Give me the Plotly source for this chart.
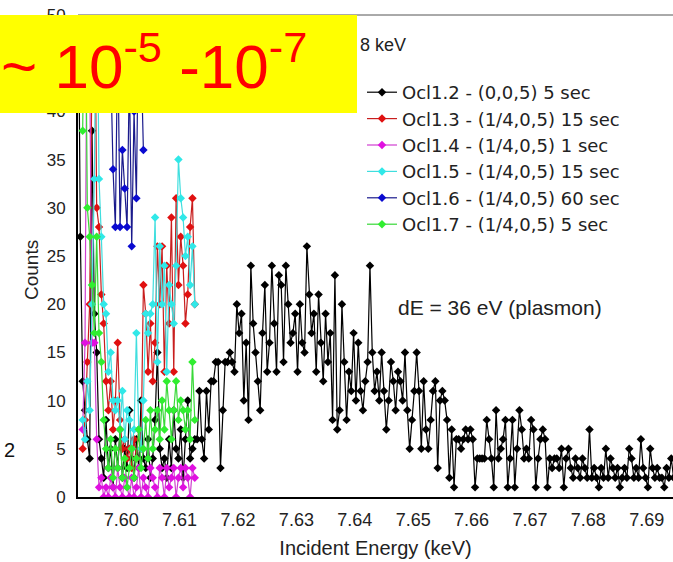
import plotly.graph_objects as go

# ---- data ----
E_STEP = 0.0004          # keV, scan step
BLACK_E0 = 7.5926        # first energy of Ocl1.2 scan
SCAN_E0 = 7.5934         # first energy of the (1/4,0,5) scans
BLUE_E0 = 7.5982         # first energy of Ocl1.6 scan

ocl12 = [58, 27, 12, 9, 6, 4, 38, 19, 15, 6,
         4, 2, 8, 3, 5, 1, 6, 3, 7, 2,
         5, 3, 9, 4, 2, 6, 3, 10, 4, 3,
         6, 2, 4, 8, 15, 5, 3, 4, 2, 6,
         3, 9, 5, 4, 7, 2, 6, 10, 4, 5,
         6, 6, 11, 6, 4, 11, 7, 12, 12, 14,
         14, 3, 9, 14, 14, 15, 14, 13, 20, 17,
         19, 10, 16, 8, 24, 18, 15, 12, 9, 17,
         22, 13, 16, 24, 18, 13, 23, 22, 14, 24,
         20, 16, 17, 19, 13, 20, 16, 15, 26, 21,
         17, 19, 13, 21, 16, 12, 19, 14, 17, 8,
         23, 7, 9, 20, 14, 8, 13, 11, 17, 10,
         16, 11, 9, 12, 14, 24, 15, 11, 13, 10,
         15, 11, 7, 10, 14, 12, 9, 13, 12, 10,
         15, 9, 5, 8, 11, 15, 11, 5, 12, 7,
         5, 8, 11, 12, 3, 10, 11, 10, 8, 2,
         7, 1, 6, 6, 5, 6, 7, 6, 7, 6,
         1, 4, 4, 4, 4, 8, 6, 4, 1, 9,
         4, 5, 6, 8, 1, 4, 8, 1, 5, 9,
         7, 4, 5, 4, 8, 7, 1, 4, 6, 7,
         6, 1, 4, 3, 4, 4, 3, 5, 1, 4,
         5, 3, 2, 4, 3, 2, 4, 3, 2, 7,
         2, 3, 2, 1, 3, 2, 5, 2, 4, 3,
         2, 3, 1, 2, 3, 2, 5, 4, 2, 3,
         2, 6, 3, 2, 1, 5, 3, 2, 3, 2,
         2, 1, 3, 2, 4, 2]

ocl13 = [5, 8, 14, 20, 45, 58, 30, 28, 21, 18,
         12, 9, 12, 7, 10, 16, 8, 5, 6, 4,
         5, 3, 6, 4, 7, 5, 22, 19, 13, 18,
         12, 16, 26, 20, 26, 13, 24, 18, 29, 13,
         31, 22, 27, 24, 18, 21, 28, 31, 20]

ocl14 = [7, 16, 58, 45, 16, 16, 6, 1, 2, 0,
         1, 0, 2, 1, 0, 3, 1, 0, 2, 1,
         0, 2, 0, 1, 3, 0, 2, 1, 0, 3,
         2, 1, 0, 3, 2, 0, 3, 1, 2, 3,
         0, 2, 3, 1, 3, 2, 0, 3, 2]

ocl15 = [8, 6, 12, 9, 20, 33, 58, 33, 27, 20,
         19, 13, 15, 10, 9, 10, 7, 11, 6, 9,
         8, 5, 7, 17, 7, 5, 10, 19, 17, 19,
         20, 29, 14, 26, 20, 24, 13, 22, 20, 18,
         24, 35, 31, 29, 25, 27, 22, 26, 20]

ocl16 = [45, 34, 28, 48, 28, 36, 32, 28, 44, 26,
         40, 31, 52, 46, 36]

ocl17 = [38, 58, 30, 27, 22, 17, 27, 17, 14, 8,
         5, 3, 6, 2, 5, 3, 7, 2, 4, 1,
         3, 5, 2, 4, 7, 3, 5, 8, 4, 9,
         5, 7, 9, 6, 10, 7, 12, 9, 6, 9,
         12, 8, 10, 9, 7, 9, 6, 14, 8]

series = [
    ("Ocl1.2 - (0,0,5) 5 sec", BLACK_E0, ocl12, "#000000", "#000000"),
    ("Ocl1.3 - (1/4,0,5) 15 sec", SCAN_E0, ocl13, "#c81e1e", "#e01010"),
    ("Ocl1.4 - (1/4,0,5) 1 sec", SCAN_E0, ocl14, "#d040d0", "#e010e0"),
    ("Ocl1.5 - (1/4,0,5) 15 sec", SCAN_E0, ocl15, "#40dede", "#30e8e8"),
    ("Ocl1.6 - (1/4,0,5) 60 sec", BLUE_E0, ocl16, "#1a1a8c", "#0a0ad0"),
    ("Ocl1.7 - (1/4,0,5) 5 sec", SCAN_E0, ocl17, "#38d838", "#30ee30"),
]

x_ticks = [7.60, 7.61, 7.62, 7.63, 7.64, 7.65, 7.66, 7.67, 7.68, 7.69]
y_ticks = [0, 5, 10, 15, 20, 25, 30, 35, 40, 45, 50]
# the "45" label lies under the yellow box in the reference
y_ticktext = ["0", "5", "10", "15", "20", "25", "30", "35", "40", "", "50"]

FONT = "Liberation Sans, Arial, sans-serif"

fig = go.Figure()
for name, e0, vals, lc, mc in series:
    xs = [e0 + i * E_STEP for i in range(len(vals))]
    fig.add_trace(go.Scatter(
        x=xs, y=vals, name=name, mode="lines+markers",
        line=dict(color=lc, width=1.2),
        marker=dict(symbol="diamond", size=6.5, color=mc),
        cliponaxis=True,
    ))

W, H = 673, 562
L, R, T, B = 78, 0, 15, 65
pw, ph = W - L - R, H - T - B

def px(x):
    return (x - L) / pw

def py(y):
    return (H - B - y) / ph

fig.update_layout(
    width=W, height=H,
    margin=dict(l=L, r=R, t=T, b=B),
    paper_bgcolor="white", plot_bgcolor="white",
    font=dict(family=FONT, color="#222222"),
    showlegend=True,
    legend=dict(
        x=px(362), y=py(74), xanchor="left", yanchor="top",
        bgcolor="rgba(0,0,0,0)",
        font=dict(family="DejaVu Sans, Liberation Sans, sans-serif", size=18, color="#222222"),
        tracegroupgap=0,
    ),
    xaxis=dict(
        range=[7.5926, 7.6945], tickvals=x_ticks, tickformat=".2f",
        showgrid=False, zeroline=False,
        showline=True, linecolor="black", linewidth=2,
        ticks="", tickfont=dict(size=18, color="#222222"),
        ticklabelstandoff=5,
        title=dict(text="Incident Energy (keV)", font=dict(size=20, color="#222222"),
                   standoff=12),
    ),
    yaxis=dict(
        range=[0, 50], tickvals=y_ticks, ticktext=y_ticktext,
        showgrid=False, zeroline=False,
        showline=True, linecolor="black", linewidth=2,
        ticks="", tickfont=dict(size=17, color="#222222"),
        ticklabelstandoff=7,
    ),
    shapes=[
        dict(type="line", xref="paper", yref="paper", x0=0, x1=1, y0=1, y1=1,
             line=dict(color="#555555", width=1), layer="above"),
        dict(type="rect", xref="paper", yref="paper",
             x0=px(0), x1=px(357), y0=py(113), y1=py(15),
             fillcolor="#ffff00", line=dict(width=0), layer="above"),
    ],
    annotations=[
        dict(text="Counts", xref="paper", yref="paper", x=px(31), y=py(270),
             xanchor="center", yanchor="middle", textangle=-90, showarrow=False,
             font=dict(size=19, color="#222222")),
        dict(text="~ 10<sup>-5</sup> -10<sup>-7</sup>", xref="paper", yref="paper",
             x=px(-1), y=py(62), xanchor="left", yanchor="middle", showarrow=False,
             font=dict(size=62, color="#ff0000")),
        dict(text="8 keV", xref="paper", yref="paper", x=px(358), y=py(45),
             xanchor="left", yanchor="middle", showarrow=False,
             font=dict(size=18, color="#222222")),
        dict(text="dE = 36 eV (plasmon)", xref="paper", yref="paper", x=px(396), y=py(307),
             xanchor="left", yanchor="middle", showarrow=False,
             font=dict(size=21, color="#222222")),
        dict(text="2", xref="paper", yref="paper", x=px(2), y=py(450),
             xanchor="left", yanchor="middle", showarrow=False,
             font=dict(size=20, color="#111111")),
    ],
)

fig.write_html("out.html")
